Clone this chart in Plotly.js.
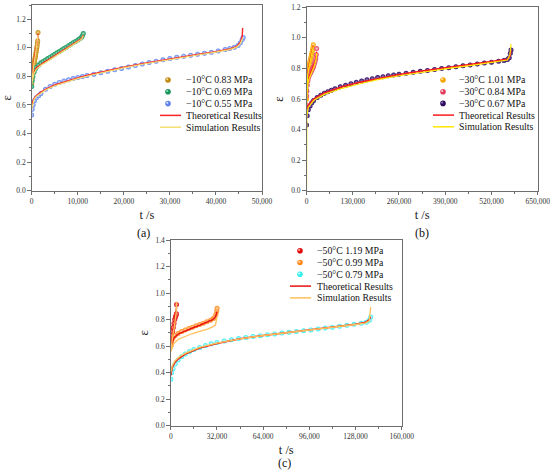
<!DOCTYPE html>
<html>
<head>
<meta charset="utf-8">
<script src="https://cdn.plot.ly/plotly-3.0.1.min.js"></script>
<style>html,body{margin:0;padding:0;background:#fff;}#chart{width:550px;height:471px;}</style>
</head>
<body>
<div id="chart"></div>
<script>
// ---------------- Panel (a): -10 °C ----------------
const tA83 = [0, 60, 130, 200, 280, 360, 440, 520, 600, 680, 760, 840, 920, 1000, 1080, 1160, 1240, 1300, 1370];
const eA83 = [0.75, 0.78, 0.80, 0.82, 0.84, 0.86, 0.875, 0.89, 0.905, 0.92, 0.935, 0.95, 0.965, 0.98, 0.995, 1.01, 1.03, 1.05, 1.107];
const tA83L = [0, 200, 500, 800, 1100, 1300, 1370];
const thA83 = [0.78, 0.84, 0.91, 0.97, 1.02, 1.06, 1.10];
const simA83 = [0.76, 0.82, 0.89, 0.95, 1.01, 1.05, 1.09];

const tA69 = [0, 100, 250, 500, 750, 1000, 1500, 2000, 2500, 3000, 3500, 4000, 4500, 5000, 5500, 6000, 6500, 7000, 7500, 8000, 8500, 9000, 9500, 10000, 10400, 10800, 11000, 11200];
const eA69 = [0.73, 0.77, 0.80, 0.83, 0.85, 0.865, 0.88, 0.895, 0.905, 0.915, 0.925, 0.935, 0.945, 0.955, 0.965, 0.975, 0.985, 0.995, 1.005, 1.015, 1.025, 1.035, 1.045, 1.055, 1.063, 1.075, 1.085, 1.10];
const tA69L = [0, 200, 500, 1000, 2000, 3000, 4000, 5000, 6000, 7000, 8000, 9000, 10000, 10600, 11000, 11200];
const thA69 = [0.76, 0.80, 0.83, 0.86, 0.885, 0.905, 0.925, 0.945, 0.965, 0.985, 1.005, 1.025, 1.045, 1.06, 1.075, 1.09];
const simA69 = [0.75, 0.79, 0.82, 0.85, 0.878, 0.898, 0.918, 0.938, 0.958, 0.978, 0.998, 1.018, 1.038, 1.055, 1.07, 1.085];

const tA55 = [0, 100, 300, 600, 1000, 1500, 2000, 3000, 4000, 5000, 6000, 7000, 8000, 9000, 10000, 11000, 12000, 13500, 15000, 16500, 18000, 19500, 21000, 22500, 24000, 25500, 27000, 28500, 30000, 31500, 33000, 34500, 36000, 37500, 39000, 40500, 42000, 43000, 44000, 44800, 45300, 45700, 45900];
const eA55 = [0.53, 0.57, 0.60, 0.63, 0.65, 0.665, 0.68, 0.71, 0.73, 0.745, 0.758, 0.768, 0.777, 0.785, 0.793, 0.80, 0.807, 0.816, 0.826, 0.836, 0.846, 0.856, 0.866, 0.876, 0.887, 0.897, 0.907, 0.916, 0.925, 0.934, 0.942, 0.949, 0.956, 0.963, 0.97, 0.978, 0.988, 0.996, 1.005, 1.016, 1.035, 1.058, 1.072];
const tA55L = [0, 200, 500, 1000, 2000, 3000, 5000, 7000, 10000, 13000, 16000, 20000, 24000, 28000, 32000, 36000, 40000, 43000, 44500, 45300, 45700, 45800];
const thA55 = [0.58, 0.62, 0.645, 0.665, 0.69, 0.71, 0.74, 0.762, 0.79, 0.815, 0.837, 0.865, 0.89, 0.913, 0.934, 0.954, 0.974, 0.992, 1.01, 1.04, 1.08, 1.14];
const simA55 = [0.57, 0.61, 0.638, 0.66, 0.685, 0.705, 0.735, 0.757, 0.785, 0.81, 0.832, 0.86, 0.885, 0.908, 0.93, 0.95, 0.97, 0.988, 1.005, 1.03, 1.06, 1.07];

// ---------------- Panel (b): -30 °C ----------------
const tB101 = [0, 300, 700, 1200, 2000, 3000, 4000, 5000, 6500, 8000, 9500, 11000, 12500, 14000, 15500, 17000, 18000, 19000];
const eB101 = [0.60, 0.66, 0.70, 0.73, 0.75, 0.77, 0.785, 0.80, 0.815, 0.83, 0.845, 0.86, 0.875, 0.89, 0.905, 0.92, 0.935, 0.955];
const tB101L = [0, 1000, 3000, 6000, 9000, 12000, 15000, 17500, 19000];
const thB101 = [0.62, 0.72, 0.77, 0.81, 0.845, 0.875, 0.905, 0.93, 0.95];
const simB101 = [0.60, 0.70, 0.755, 0.795, 0.83, 0.862, 0.893, 0.92, 0.945];

const tB84 = [0, 500, 1000, 2000, 4000, 6000, 8000, 10000, 12000, 14000, 16000, 18000, 20000, 22000, 24000, 26000, 27500, 28500];
const eB84 = [0.56, 0.62, 0.65, 0.69, 0.72, 0.74, 0.755, 0.765, 0.775, 0.785, 0.795, 0.805, 0.815, 0.83, 0.845, 0.865, 0.89, 0.93];
const tB84L = [0, 1000, 3000, 6000, 10000, 14000, 18000, 22000, 25000, 27500, 28500];
const thB84 = [0.58, 0.66, 0.71, 0.74, 0.765, 0.785, 0.805, 0.828, 0.85, 0.88, 0.91];
const simB84 = [0.56, 0.64, 0.69, 0.725, 0.752, 0.773, 0.793, 0.815, 0.835, 0.865, 0.90];

const tB67 = [0, 2000, 5000, 10000, 15000, 20000, 30000, 40000, 50000, 60000, 70000, 80000, 95000, 110000, 125000, 140000, 155000, 170000, 185000, 200000, 215000, 230000, 245000, 260000, 280000, 300000, 320000, 340000, 360000, 380000, 400000, 420000, 440000, 460000, 480000, 500000, 520000, 540000, 555000, 565000, 570000, 573000, 575000];
const eB67 = [0.43, 0.49, 0.53, 0.555, 0.575, 0.59, 0.61, 0.625, 0.638, 0.648, 0.658, 0.667, 0.68, 0.69, 0.70, 0.71, 0.718, 0.726, 0.733, 0.74, 0.746, 0.752, 0.757, 0.762, 0.769, 0.775, 0.781, 0.787, 0.793, 0.799, 0.805, 0.811, 0.817, 0.823, 0.829, 0.835, 0.841, 0.847, 0.852, 0.858, 0.87, 0.90, 0.92];
const tB67L = [0, 1000, 5000, 20000, 50000, 100000, 150000, 200000, 260000, 330000, 400000, 470000, 540000, 565000, 572000, 575000];
const thB67 = [0.50, 0.53, 0.56, 0.60, 0.64, 0.68, 0.71, 0.735, 0.76, 0.785, 0.807, 0.828, 0.85, 0.86, 0.88, 0.92];
const simB67 = [0.0, 0.49, 0.545, 0.59, 0.63, 0.67, 0.70, 0.727, 0.752, 0.778, 0.80, 0.822, 0.843, 0.855, 0.89, 0.96];

// ---------------- Panel (c): -50 °C ----------------
const tC119 = [0, 300, 700, 1200, 1700, 2200, 2700, 3200, 3600, 3900, 3950];
const eC119 = [0.60, 0.64, 0.68, 0.71, 0.74, 0.77, 0.80, 0.82, 0.83, 0.844, 0.914];
const tC119L = [0, 500, 1500, 2500, 3300, 3800, 4000];
const thC119 = [0.58, 0.64, 0.71, 0.77, 0.82, 0.86, 0.89];
const simC119 = [0.56, 0.62, 0.69, 0.75, 0.80, 0.86, 0.935];

const tC99 = [0, 500, 1500, 3000, 5000, 7500, 10000, 12500, 15000, 17500, 20000, 22500, 25000, 27500, 29500, 30500, 31300, 31800, 32100];
const eC99 = [0.60, 0.64, 0.66, 0.68, 0.695, 0.71, 0.722, 0.733, 0.743, 0.753, 0.763, 0.773, 0.784, 0.795, 0.808, 0.82, 0.84, 0.865, 0.885];
const tC99L = [0, 2000, 5000, 10000, 15000, 20000, 25000, 29000, 31000, 32000];
const thC99 = [0.59, 0.66, 0.69, 0.715, 0.737, 0.757, 0.778, 0.80, 0.82, 0.86];
const simC99 = [0.56, 0.62, 0.65, 0.675, 0.695, 0.712, 0.727, 0.745, 0.76, 0.82];

const tC79 = [0, 500, 1500, 3000, 5000, 7500, 10000, 13000, 16000, 20000, 24000, 28000, 32000, 37000, 42000, 47000, 52000, 57000, 62000, 67000, 72000, 77000, 82000, 87000, 92000, 97000, 102000, 107000, 112000, 117000, 122000, 127000, 132000, 135500, 137500, 138500];
const eC79 = [0.35, 0.40, 0.43, 0.465, 0.495, 0.52, 0.54, 0.56, 0.575, 0.59, 0.605, 0.617, 0.627, 0.638, 0.648, 0.657, 0.665, 0.672, 0.679, 0.686, 0.692, 0.698, 0.704, 0.71, 0.716, 0.722, 0.729, 0.736, 0.743, 0.75, 0.757, 0.764, 0.772, 0.78, 0.795, 0.82];
const tC79L = [0, 1000, 3000, 6000, 10000, 20000, 32000, 48000, 64000, 80000, 96000, 112000, 128000, 135000, 137500, 138500];
const thC79 = [0.38, 0.44, 0.48, 0.51, 0.54, 0.585, 0.62, 0.655, 0.68, 0.70, 0.72, 0.742, 0.765, 0.78, 0.80, 0.82];
const simC79 = [0.40, 0.45, 0.49, 0.52, 0.545, 0.59, 0.622, 0.655, 0.68, 0.70, 0.72, 0.742, 0.763, 0.775, 0.79, 0.895];

// legend labels
const legA = ['\u221210\u00B0C 0.83 MPa', '\u221210\u00B0C 0.69 MPa', '\u221210\u00B0C 0.55 MPa'];
const legB = ['\u221230\u00B0C 1.01 MPa', '\u221230\u00B0C 0.84 MPa', '\u221230\u00B0C 0.67 MPa'];
const legC = ['\u221250\u00B0C 1.19 MPa', '\u221250\u00B0C 0.99 MPa', '\u221250\u00B0C 0.79 MPa'];
const lineLabels = ['Theoretical Results', 'Simulation Results'];

// ---------------- styling ----------------
const FONT = 'Liberation Serif';
const W = 550, H = 471;
const X = px => px / W;
const Y = py => 1 - py / H;

const colA = ['#c08a10', '#14935c', '#5f82ee'];
const colB = ['#f7a600', '#de3d5c', '#2e0b5e'];
const colC = ['#e00a0a', '#ff8a1c', '#35eef0'];
const hiA = ['#f3dc9a', '#9fe3c0', '#dfe8ff'];
const hiB = ['#ffe6a0', '#ffd0da', '#9a80c8'];
const hiC = ['#ffb0b0', '#ffd8b0', '#e8ffff'];
const redA = '#ff2424', yelA = '#f3df70';
const redB = '#ff1a1a', yelB = '#ffe600';
const redC = '#ea1010', yelC = '#ffc05a';

function pts(x, y, c, hi, n) {
  return {type: 'scatter', mode: 'markers', x: x, y: y, xaxis: 'x' + n, yaxis: 'y' + n,
    marker: {size: 5, color: c, gradient: {type: 'radial', color: hi}, line: {width: 0}},
    showlegend: false, hoverinfo: 'skip'};
}
function ln(x, y, c, w, n) {
  return {type: 'scatter', mode: 'lines', x: x, y: y, xaxis: 'x' + n, yaxis: 'y' + n,
    line: {color: c, width: w}, showlegend: false, hoverinfo: 'skip'};
}

const data = [
  pts(tA83, eA83, colA[0], hiA[0], ''), pts(tA69, eA69, colA[1], hiA[1], ''), pts(tA55, eA55, colA[2], hiA[2], ''),
  ln(tA83L, thA83, redA, 1.4, ''), ln(tA69L, thA69, redA, 1.4, ''), ln(tA55L, thA55, redA, 1.4, ''),
  ln(tA83L, simA83, yelA, 1.2, ''), ln(tA69L, simA69, yelA, 1.2, ''), ln(tA55L, simA55, yelA, 1.2, ''),

  pts(tB101, eB101, colB[0], hiB[0], '2'), pts(tB84, eB84, colB[1], hiB[1], '2'), pts(tB67, eB67, colB[2], hiB[2], '2'),
  ln(tB101L, thB101, redB, 1.4, '2'), ln(tB84L, thB84, redB, 1.4, '2'), ln(tB67L, thB67, redB, 1.4, '2'),
  ln(tB101L, simB101, yelB, 1.2, '2'), ln(tB84L, simB84, yelB, 1.2, '2'), ln(tB67L, simB67, yelB, 1.2, '2'),

  pts(tC119, eC119, colC[0], hiC[0], '3'), pts(tC99, eC99, colC[1], hiC[1], '3'), pts(tC79, eC79, colC[2], hiC[2], '3'),
  ln(tC119L, thC119, redC, 1.5, '3'), ln(tC99L, thC99, redC, 1.5, '3'), ln(tC79L, thC79, redC, 1.5, '3'),
  ln(tC119L, simC119, yelC, 1.3, '3'), ln(tC99L, simC99, yelC, 1.3, '3'), ln(tC79L, simC79, yelC, 1.3, '3')
];

const AX = '#6e6e6e';
function xax(dom, range, dt, anchor) {
  return {domain: dom, range: range, anchor: anchor, tick0: 0, dtick: dt, tickformat: ',d', ticklabeloverflow: 'allow',
    showline: true, linecolor: AX, linewidth: 1, mirror: true, ticks: 'outside', ticklen: 3.5, tickwidth: 1, tickcolor: AX,
    minor: {ticks: 'outside', ticklen: 2, tickcolor: AX, dtick: dt / 2, tick0: 0},
    showgrid: false, zeroline: false, fixedrange: true,
    tickfont: {family: FONT, size: 7.5, color: '#333'},
    title: {text: 't /s', font: {family: FONT, size: 12.5, color: '#222'}, standoff: 5}};
}
function yax(dom, range, anchor) {
  return {domain: dom, range: range, anchor: anchor, tick0: 0, dtick: 0.2, tickformat: '.1f', ticklabeloverflow: 'allow',
    showline: true, linecolor: AX, linewidth: 1, mirror: true, ticks: 'outside', ticklen: 3.5, tickwidth: 1, tickcolor: AX,
    minor: {ticks: 'outside', ticklen: 2, tickcolor: AX, dtick: 0.1, tick0: 0},
    showgrid: false, zeroline: false, fixedrange: true,
    tickfont: {family: FONT, size: 7.5, color: '#333'},
    title: {text: '\u03B5', font: {family: FONT, size: 12.5, color: '#222'}, standoff: 4}};
}

const shapes = [], annotations = [];
function legend(mx, tx, lx0, lx1, y0, dy, labels, cols, his, red, yel) {
  for (let i = 0; i < 3; i++) {
    const cy = y0 + dy * i, r = 2.8;
    shapes.push({type: 'circle', xref: 'paper', yref: 'paper', x0: X(mx - r), x1: X(mx + r), y0: Y(cy + r), y1: Y(cy - r),
      fillcolor: cols[i], line: {width: 0}});
    shapes.push({type: 'circle', xref: 'paper', yref: 'paper', x0: X(mx - 1.9), x1: X(mx + 0.3), y0: Y(cy + 0.3), y1: Y(cy - 1.9),
      fillcolor: his[i], opacity: 0.9, line: {width: 0}});
    annotations.push({xref: 'paper', yref: 'paper', x: X(tx), y: Y(cy), xanchor: 'left', yanchor: 'middle', showarrow: false,
      text: labels[i], font: {family: FONT, size: 9.8, color: '#111'}});
  }
  const lc = [red, yel];
  for (let j = 0; j < 2; j++) {
    const cy = y0 + dy * (3 + j);
    shapes.push({type: 'line', xref: 'paper', yref: 'paper', x0: X(lx0), x1: X(lx1), y0: Y(cy), y1: Y(cy),
      line: {color: lc[j], width: 1.5}});
    annotations.push({xref: 'paper', yref: 'paper', x: X(tx), y: Y(cy), xanchor: 'left', yanchor: 'middle', showarrow: false,
      text: lineLabels[j], font: {family: FONT, size: 9.8, color: '#111'}});
  }
}
legend(168, 184, 160, 181, 80, 11.8, legA, colA, hiA, redA, yelA);
legend(443, 457, 433, 454, 80, 11.7, legB, colB, hiB, redB, yelB);
legend(300, 315, 290, 311, 250.7, 11.8, legC, colC, hiC, redC, yelC);

const caps = [['(a)', 143, 233], ['(b)', 422, 233], ['(c)', 284, 463]];
caps.forEach(c => annotations.push({xref: 'paper', yref: 'paper', x: X(c[1]), y: Y(c[2]), xanchor: 'center', yanchor: 'middle',
  showarrow: false, text: c[0], font: {family: FONT, size: 12, color: '#111'}}));

const layout = {
  width: W, height: H, margin: {l: 0, r: 0, t: 0, b: 0}, paper_bgcolor: '#fff', plot_bgcolor: '#fff',
  showlegend: false, font: {family: FONT},
  xaxis: xax([X(31.7), X(262)], [0, 50000], 10000, 'y'),
  yaxis: yax([Y(190.7), Y(5)], [0, 1.3], 'x'),
  xaxis2: xax([X(306.5), X(537.7)], [0, 650000], 130000, 'y2'),
  yaxis2: yax([Y(190.7), Y(7.3)], [0, 1.2], 'x2'),
  xaxis3: xax([X(170.8), X(401.7)], [0, 160000], 32000, 'y3'),
  yaxis3: yax([Y(425.7), Y(240)], [0, 1.4], 'x3'),
  shapes: shapes, annotations: annotations
};

Plotly.newPlot('chart', data, layout, {displayModeBar: false, staticPlot: true});
</script>
</body>
</html>
